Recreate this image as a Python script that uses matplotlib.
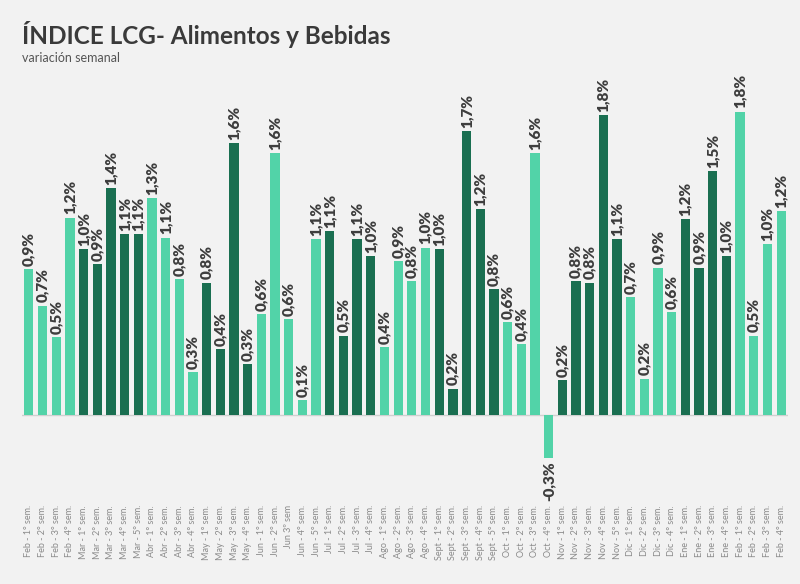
import numpy as np
import matplotlib
matplotlib.use('Agg')
import matplotlib.pyplot as plt

plt.rcParams['font.family'] = ['Lato', 'DejaVu Sans']

# weeks (x labels)
weeks = ['Feb - 1° sem.', 'Feb - 2° sem.', 'Feb - 3° sem.', 'Feb - 4° sem.',
         'Mar - 1° sem.', 'Mar - 2° sem.', 'Mar - 3° sem.', 'Mar - 4° sem.', 'Mar - 5° sem.',
         'Abr - 1° sem.', 'Abr - 2° sem.', 'Abr - 3° sem.', 'Abr - 4° sem.',
         'May - 1° sem.', 'May - 2° sem.', 'May - 3° sem.', 'May - 4° sem.',
         'Jun - 1° sem.', 'Jun - 2° sem.', 'Jun 3º sem', 'Jun - 4° sem.', 'Jun - 5° sem.',
         'Jul - 1° sem.', 'Jul - 2° sem.', 'Jul - 3° sem.', 'Jul - 4° sem.',
         'Ago - 1° sem.', 'Ago - 2° sem.', 'Ago - 3° sem.', 'Ago - 4° sem.',
         'Sept - 1° sem.', 'Sept - 2° sem.', 'Sept - 3° sem.', 'Sept - 4° sem.', 'Sept - 5° sem.',
         'Oct - 1° sem.', 'Oct - 2° sem.', 'Oct - 3° sem.', 'Oct - 4° sem.',
         'Nov - 1° sem.', 'Nov - 2° sem.', 'Nov - 3° sem.', 'Nov - 4° sem.', 'Nov - 5° sem.',
         'Dic - 1° sem.', 'Dic - 2° sem.', 'Dic - 3° sem.', 'Dic - 4° sem.',
         'Ene - 1° sem.', 'Ene - 2° sem.', 'Ene - 3° sem.', 'Ene - 4° sem.',
         'Feb - 1° sem.', 'Feb - 2° sem.', 'Feb - 3° sem.', 'Feb - 4° sem.']

# weekly variation (%)
values = [0.88, 0.66, 0.47, 1.19,
          1.00, 0.91, 1.37, 1.09, 1.09,
          1.31, 1.07, 0.82, 0.26,
          0.80, 0.40, 1.64, 0.31,
          0.61, 1.58, 0.58, 0.09, 1.06,
          1.11, 0.48, 1.06, 0.96,
          0.41, 0.93, 0.81, 1.01,
          1.00, 0.16, 1.71, 1.24, 0.76,
          0.56, 0.43, 1.58, -0.26,
          0.21, 0.81, 0.80, 1.81, 1.06,
          0.71, 0.22, 0.89, 0.62,
          1.18, 0.89, 1.47, 0.96,
          1.83, 0.48, 1.03, 1.23]

# weeks per month, colours alternate month by month
month_sizes = [4, 5, 4, 4, 5, 4, 4, 5, 4, 5, 4, 4, 4]

light = '#52d3a8'
dark = '#1a6f51'
groups = np.repeat(np.arange(len(month_sizes)) % 2, month_sizes)
colors = [dark if g else light for g in groups]

fig = plt.figure(figsize=(8, 5.84), dpi=100)
fig.patch.set_facecolor('#f2f2f2')
ax = fig.add_axes([0.0275, 0.178, 0.9575, 0.668])
ax.set_facecolor('#f2f2f2')

x = np.arange(len(values))
bars = ax.bar(x, values, width=0.68, color=colors, zorder=2)

for xi, v in zip(x, values):
    lbl = f'{v:.1f}%'.replace('.', ',')
    if v >= 0:
        ax.text(xi, v + 0.02, lbl, rotation=90, ha='center', va='bottom',
                fontsize=11, fontweight='heavy', color='#3d3d3d')
    else:
        ax.text(xi, v - 0.02, lbl, rotation=90, ha='center', va='top',
                fontsize=11, fontweight='heavy', color='#3d3d3d')

ax.axhline(0, color='#d0d0d0', lw=1, zorder=1)
ax.set_xlim(-0.5, len(values) - 0.5)
ax.set_ylim(-0.39, 1.96)
ax.set_xticks(x)
ax.set_xticklabels(weeks, rotation=90, fontsize=6.5, color='#8a8a8a')
ax.tick_params(axis='x', length=0, pad=18)
ax.set_yticks([])
for s in ax.spines.values():
    s.set_visible(False)

fig.text(0.0275, 0.925, 'ÍNDICE LCG- Alimentos y Bebidas', fontsize=17.5,
         fontweight='bold', color='#3a3a3a')
fig.text(0.0275, 0.893, 'variación semanal', fontsize=9, color='#555555')

fig.savefig('out.png', dpi=100, facecolor=fig.get_facecolor())
